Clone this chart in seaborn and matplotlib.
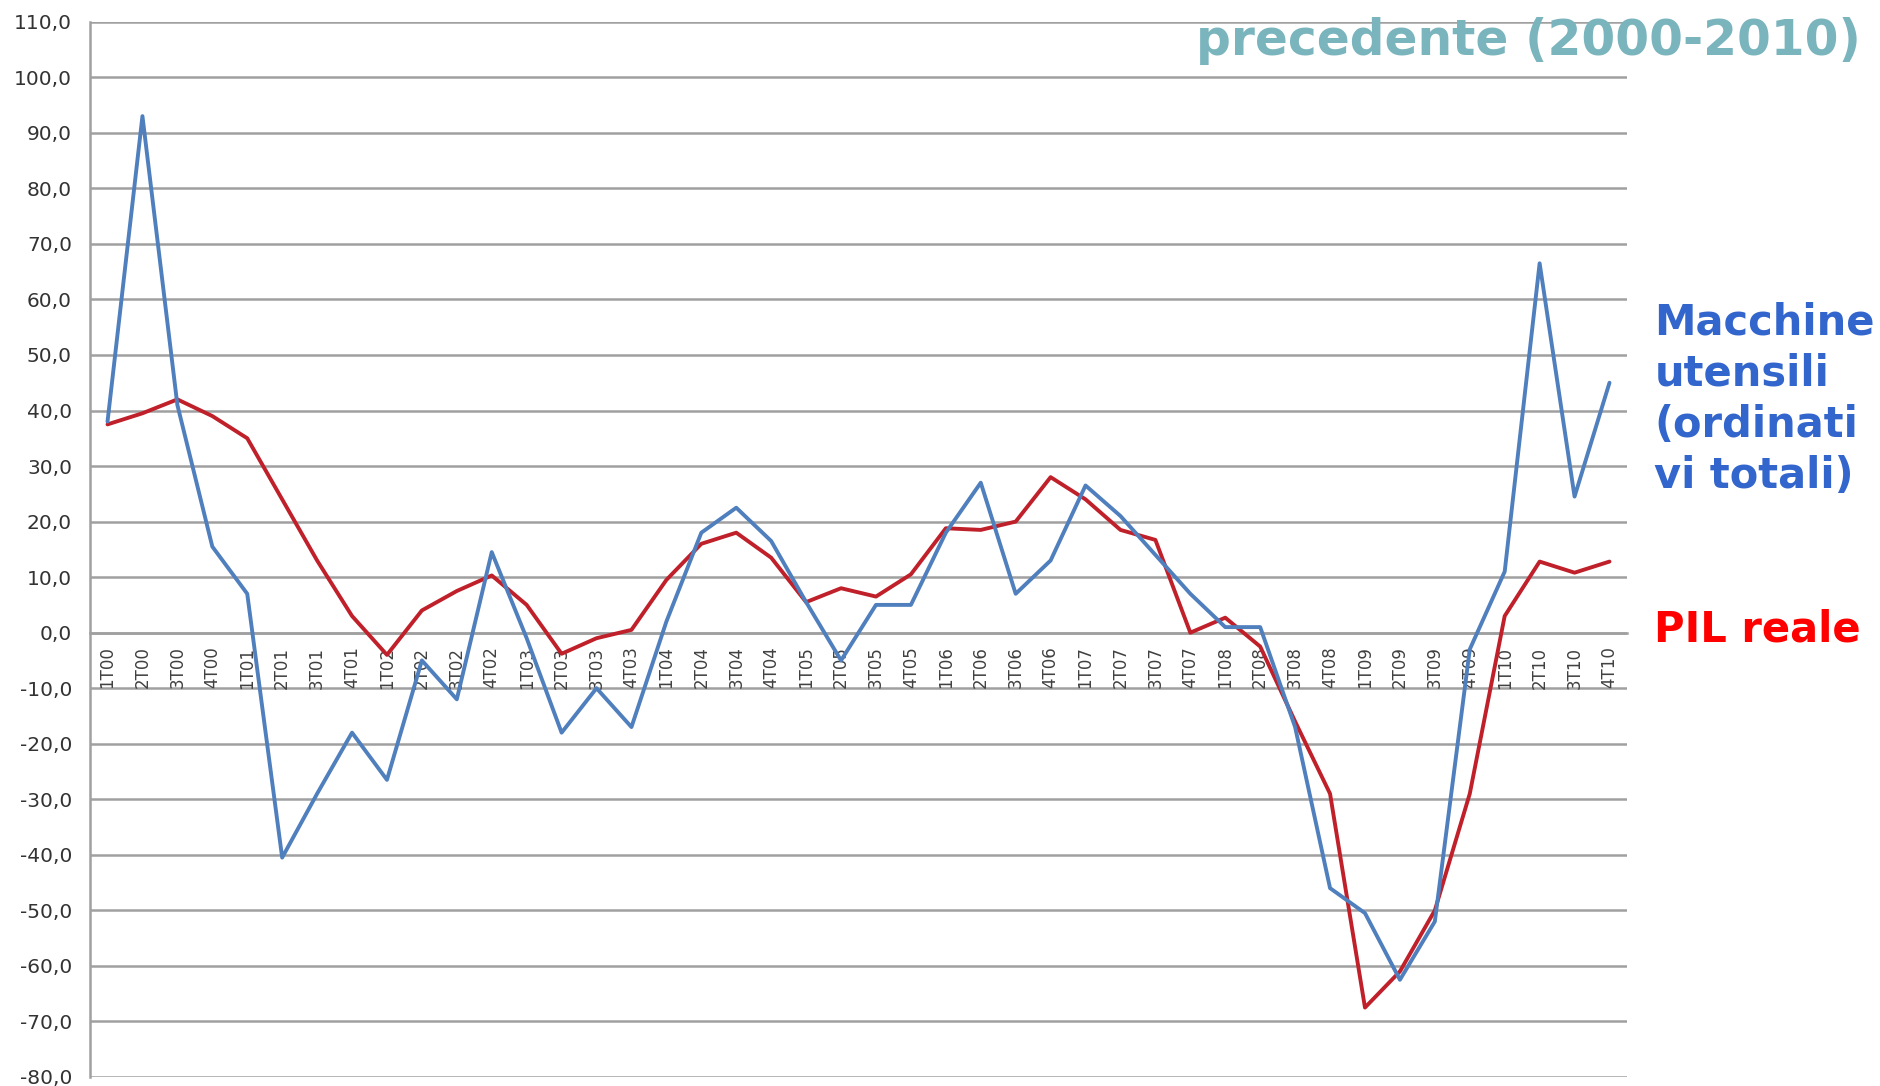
import matplotlib
matplotlib.use("Agg")
import matplotlib.pyplot as plt
import seaborn as sns
import pandas as pd
import numpy as np

quarters = ["1T00", "2T00", "3T00", "4T00", "1T01", "2T01", "3T01", "4T01",
            "1T02", "2T02", "3T02", "4T02", "1T03", "2T03", "3T03", "4T03",
            "1T04", "2T04", "3T04", "4T04", "1T05", "2T05", "3T05", "4T05",
            "1T06", "2T06", "3T06", "4T06", "1T07", "2T07", "3T07", "4T07",
            "1T08", "2T08", "3T08", "4T08", "1T09", "2T09", "3T09", "4T09",
            "1T10", "2T10", "3T10", "4T10"]

macchine = [38, 93, 41, 15.5, 7, -40.5, -29, -18,
            -26.5, -5, -12, 14.5, -1, -18, -10, -17,
            2, 18, 22.5, 16.5, 5.5, -5, 5, 5,
            18, 27, 7, 13, 26.5, 21, 14, 7,
            1, 1, -17, -46, -50.5, -62.5, -52, -3,
            11, 66.5, 24.5, 45]

pil = [37.5, 39.5, 42, 39, 35, 24, 13, 3,
       -4, 4, 7.5, 10.3, 5, -3.8, -1, 0.5,
       9.5, 16, 18, 13.5, 5.5, 8, 6.5, 10.5,
       18.8, 18.5, 20, 28, 24, 18.5, 16.7, 0,
       2.7, -2.5, -16, -29, -67.5, -61, -50, -29,
       3, 12.8, 10.8, 12.8]

y_ticks = list(range(-80, 111, 10))

title_text = "precedente (2000-2010)"
label_blue = "Macchine\nutensili\n(ordinati\nvi totali)"
label_red = "PIL reale"

sns.set_style("white")
plt.rcParams['font.family'] = ['DejaVu Sans']

df = pd.DataFrame({"quarter": quarters, "Macchine utensili": macchine, "PIL reale": pil})
df["pos"] = np.arange(len(quarters))

fig = plt.figure(figsize=(18.8, 10.86), dpi=100)
ax = fig.add_axes([0.0479, 0.0083, 0.8175, 0.9717])

grid_c = "#a0a0a0"
for v in y_ticks:
    ax.axhline(v, color=grid_c, lw=1.8, zorder=0)

sns.lineplot(data=df, x="pos", y="PIL reale", ax=ax, color="#c0202a", lw=2.8, zorder=3)
sns.lineplot(data=df, x="pos", y="Macchine utensili", ax=ax, color="#4f7fbd", lw=2.8, zorder=4)

ax.set_xlim(-0.5, len(quarters) - 0.5)
ax.set_ylim(-80, 110)
ax.set_xlabel("")
ax.set_ylabel("")

ax.set_yticks(y_ticks)
ax.set_yticklabels([f"{v:.1f}".replace(".", ",") for v in y_ticks], fontsize=14.5, color="#333333")
ax.tick_params(axis="y", length=9, width=1.8, color=grid_c, pad=4)

ax.spines["top"].set_visible(False)
ax.spines["right"].set_visible(False)
ax.spines["left"].set_color(grid_c)
ax.spines["left"].set_linewidth(1.8)
ax.spines["bottom"].set_position(("data", 0))
ax.spines["bottom"].set_color(grid_c)
ax.spines["bottom"].set_linewidth(1.8)

ax.set_xticks(df["pos"])
ax.set_xticklabels(quarters, rotation=90, fontsize=12, color="#404040")
ax.tick_params(axis="x", which="major", length=0, pad=10)
ax.set_xticks(np.arange(-0.5, len(quarters), 1), minor=True)
ax.tick_params(axis="x", which="minor", length=6, direction="inout", color=grid_c, width=1.2)

fig.text(0.99, 0.949, title_text, ha="right", va="baseline", fontsize=35,
         fontweight="bold", color="#7ab4bd")
fig.text(0.880, 0.722, label_blue, ha="left", va="top", fontsize=30,
         fontweight="bold", color="#3366cc", linespacing=1.27)
fig.text(0.880, 0.420, label_red, ha="left", va="center", fontsize=30,
         fontweight="bold", color="#ff0000")

fig.savefig("out.png", dpi=100, facecolor="white")
